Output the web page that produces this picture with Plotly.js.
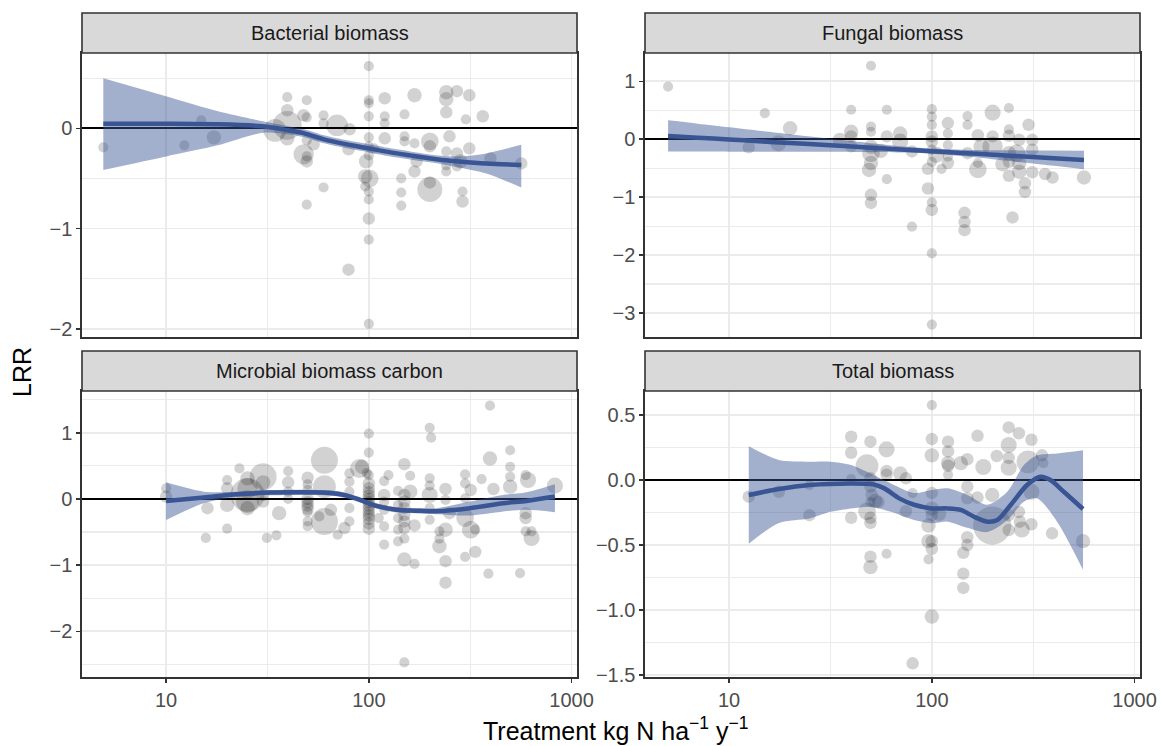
<!DOCTYPE html>
<html>
<head>
<meta charset="utf-8">
<script src="https://cdn.plot.ly/plotly-3.0.1.min.js"></script>
<style>html,body{margin:0;padding:0;background:#fff;}#chart{width:1161px;height:746px;}</style>
</head>
<body>
<div id="chart"></div>
<script>
// ---------------- DATA ----------------
const panelTitles = ["Bacterial biomass", "Fungal biomass", "Microbial biomass carbon", "Total biomass"];
const xTitle = "Treatment kg N ha<sup>\u22121</sup> y<sup>\u22121</sup>";
const yTitle = "LRR";
const xTickVals = [10, 100, 1000];
const xTickText = ["10", "100", "1000"];
const xMinorVals = [3.1623, 31.623, 316.23];

const bactTickVals = [0, -1, -2];
const bactTickText = ["0", "\u22121", "\u22122"];
const fungTickVals = [1, 0, -1, -2, -3];
const fungTickText = ["1", "0", "\u22121", "\u22122", "\u22123"];
const micTickVals = [1, 0, -1, -2];
const micTickText = ["1", "0", "\u22121", "\u22122"];
const totTickVals = [0.5, 0, -0.5, -1, -1.5];
const totTickText = ["0.5", "0.0", "\u22120.5", "\u22121.0", "\u22121.5"];

// Bacterial biomass points
const bactX = [4.9,12.3,14.9,17.2,39.6,39.6,39.6,34.4,39.6,49.4,49.4,47.6,59.8,59.8,69.7,80.5,49.4,53.4,47.7,49.4,49.4,59.8,49.4,79.4,
  100,100,100,100,100,100,100,97,96,101,96,100,100,100,100,79.4,100,119.8,119.8,119.8,119.8,106,150,150,150,168,168,168,172,144.5,144.5,144.5,
  200,200,200,200,241,241,241,250,241,241,241,272,272,272,282.6,290,290,313,313,301,365,398,565];
const bactY = [-0.19,-0.17,0.08,-0.09,0.31,0.18,0.03,-0.02,-0.10,0.28,0.11,0.13,0.13,0.05,0.03,-0.01,-0.12,-0.16,-0.26,-0.28,-0.33,-0.59,-0.76,-0.21,
  0.62,0.28,0.25,0.12,-0.09,-0.18,-0.27,-0.33,-0.48,-0.50,-0.58,-0.63,-0.71,-0.90,-1.11,-1.41,-1.95,0.30,0.12,0.05,-0.10,-0.20,0.14,-0.08,-0.13,0.33,-0.15,-0.43,-0.33,-0.50,-0.64,-0.77,
  -0.13,-0.18,-0.54,-0.61,0.36,0.29,0.16,-0.08,-0.23,-0.37,-0.43,0.37,-0.25,-0.38,-0.33,-0.63,-0.73,0.33,-0.20,0.09,0.12,-0.30,-0.35];
const bactW = [1,1,1,2,1,1.5,8,5,2,1,1,1.5,1,1,4.5,1.5,1,1.5,4,1,1.5,1,1,1.5,
  1,1,1,1,1,1,1,2,2,3,1,1,1,1.5,1,1.5,1,1.5,1,1,1.5,1,1,1,1,2,1,1.5,1.5,1,1,1,
  3,1.5,1.5,6,2,2,1.5,1.5,1,1,1,1.5,1.5,1,2,1,1.5,1.5,1.5,1,1.5,1.5,1.5];

// Fungal biomass points
const fungX = [5,15,12.5,17.5,20,35.2,40,40,40,40,50.1,50.1,50.1,50.1,50.1,50.1,49,50.1,50.1,56,60,60,60,69.8,69.8,79.8,79.8,
  100,100,100,100,100,100,105,100,95.7,95.7,100,100,100,100,111.7,120,120,120,120,120,150,150,150,145,145,145,
  168.7,168.7,168.7,175.8,199.5,199.5,199.5,223,240,240,240,240,240,240,250,270,270,270,288,288,300,262,313,313,313,362,394,563];
const fungY = [0.91,0.45,-0.14,-0.07,0.19,-0.01,0.51,0.13,0.05,-0.12,1.27,0.22,0.13,-0.13,-0.24,-0.41,-0.53,-0.96,-1.10,-0.20,0.51,0.05,-0.69,0.10,-0.04,-0.21,-1.51,
  0.52,0.39,0.25,0.05,-0.04,-0.18,-0.27,-0.39,-0.51,-0.85,-1.09,-1.22,-1.97,-3.2,-0.51,0.28,0.10,-0.10,-0.30,-0.41,0.40,0.25,-0.24,-1.27,-1.43,-1.57,
  0.07,-0.41,-0.52,-0.13,0.46,0.05,-0.13,-0.43,0.54,0.17,0.06,-0.24,-0.39,-0.63,-1.35,-0.01,-0.41,-0.56,-0.76,-0.91,0.25,-0.24,-0.01,-0.18,-0.57,-0.60,-0.66,-0.66];
const fungW = [1,1,1.5,2.5,2,2,1,2,1.5,1.5,1,1,1,2,3,2,2,1.5,1.5,2,1,1.5,1,2,2.5,1.5,1,
  1,1,1,1.5,1.5,1,2.5,1,1.5,1.5,1,1.5,1,1,1,1.5,1,1,1,1.5,1,1,1.5,1.5,1.5,1.5,
  1.5,1,3,2.5,2.5,1.5,4,2,1,1,1.5,2,1.5,1.5,1.5,1.5,2,2,1.5,1.5,1.5,3,1.5,1.5,1.5,1.5,1.5,2];

// Microbial biomass carbon points
const micX = [10,10,16,15.7,20,20,20,20,23,25.2,25.2,25.2,25.2,25.2,30.1,30.1,30.1,30.1,31.4,35,36.1,40,40,40,40,
  49.9,49.9,49.9,49.9,49.9,49.9,49.9,49.9,49.9,49.9,57,60.4,60.4,60.4,65,70.2,75.8,80.2,80.2,80.2,80.2,80.2,90,97.7,
  100,100,92.7,100,100,100,100,100,100,100,100,100,100,100,100,100,100,
  112,119,119,119,119,119,125,119,139.4,139.4,139.4,139.4,139.4,149.7,149.7,149.7,149.7,149.7,149.7,149.7,149.7,149.7,149.7,
  160,160,168,168,199.6,203,199.6,199.6,199.6,199.6,199.6,223,223,223,239,239,239,239,239,250,
  298.5,298.5,298.5,298.5,298.5,318,318,335,335,360,389,396,396,412,498,498,498,498,557,594,610,594,594,594,635,635,828];
const micY = [0.16,0.035,-0.14,-0.59,0.285,0.16,-0.09,-0.45,0.46,0.31,0.16,0.06,-0.04,-0.14,0.335,0.25,0.06,-0.04,-0.59,-0.55,-0.215,0.42,0.25,0.11,0.0,
  0.32,0.22,0.135,0.0,-0.05,-0.1,-0.15,-0.2,-0.34,-0.41,-0.265,0.585,0.185,-0.34,-0.165,-0.54,-0.44,-0.34,-0.14,0.11,0.26,0.385,0.46,0.39,
  0.985,0.70,0.485,0.36,0.235,0.16,0.1,0.05,0.0,-0.05,-0.1,-0.15,-0.2,-0.25,-0.3,-0.37,-0.45,
  -0.29,0.27,0.06,-0.04,-0.165,-0.69,0.36,-0.415,0.12,-0.09,-0.29,-0.465,-0.64,0.525,0.06,-0.04,-0.14,-0.24,-0.34,-0.44,-0.6,-0.915,-2.47,
  0.35,0.11,-0.40,-0.98,1.075,0.925,0.31,0.2,0.06,-0.14,-0.315,-0.49,-0.715,-0.6,0.15,-0.015,-0.465,-0.94,-1.265,-0.215,
  0.37,0.235,0.01,-0.29,-0.875,0.135,-0.465,-0.465,-0.8,0.3,-1.13,1.41,0.61,0.15,0.735,0.485,0.335,0.185,-1.12,0.36,0.285,-0.215,-0.29,-0.49,-0.59,-0.49,0.2];
const micW = [1,1.5,1.5,1,1,1.5,2,1,1,2,4,11,5,2,7,2,1.5,1.5,1,1,2,1,1.5,1,1,
  1.5,1,1,1.5,1.5,1.5,1.5,1,1,1,1,7,5,7,1.5,1,1.5,1,1,1,1,1,3.5,1,
  1,1,2,1,1.5,1.5,1.5,1.5,1.5,1.5,1.5,1.5,1.5,1.5,1.5,1.5,1.5,
  1,1,1.5,1,1,1,1,1,1,1,1,1,1,1.5,1.5,1.5,1.5,1.5,1.5,1.5,1,2,1,
  1,2,1.5,1,1,1,1,1,2.5,1,1,1,2,1,1.5,1,2,1.5,1.5,1.5,
  1,1,1,3,1,1.5,3,1,1.5,1,1,1,2,1.5,1,1,1,2,1,1,2.5,1.5,1.5,1,2.5,1,2.5];

// Total biomass points
const totX = [12.5,17.6,24.9,24.9,40,40,40,40,49.8,47.9,49.8,49.8,50.5,49.8,47.9,49.8,49.8,49.8,49.8,52.6,54.5,59.8,59.8,59.8,59.8,69.9,74.5,74.5,80.4,80.4,
  100,100,100,100,100,100,96.3,96.3,100,100,96.3,100,108.6,120.3,120.3,120.3,120.3,120.3,139,149.6,149.6,149.6,149.6,149.6,143,143,143,
  168,168,179.5,198.6,198.6,209,239.5,239.5,239.5,239.5,239.5,239.5,269,269,272,278,298,310,310,310,350,355,392,557];
const totY = [-0.128,-0.09,-0.27,-0.04,0.333,0.21,0.008,-0.29,0.295,0.11,0.013,-0.05,-0.115,-0.17,-0.24,-0.29,-0.33,-0.59,-0.67,-0.16,-0.17,0.236,0.07,0.04,-0.567,0.05,0.013,-0.24,-0.1,-1.41,
  0.577,0.315,0.19,-0.1,-0.22,-0.27,-0.35,-0.47,-0.47,-0.53,-0.61,-1.05,-0.26,0.295,0.22,0.13,0.11,0.04,0.13,0.16,-0.05,-0.14,-0.44,-0.5,-0.56,-0.72,-0.83,
  0.34,-0.135,0.1,-0.115,-0.35,0.185,0.405,0.27,0.17,0.095,-0.27,-0.385,0.36,-0.245,-0.32,-0.38,0.14,0.31,-0.09,-0.34,0.19,0.13,-0.41,-0.47];
const totW = [1.5,1.5,1.5,1,1.5,1.5,1,1.5,1.5,5,1.5,1.5,1.5,1,3,1.5,1.5,1.5,2,2,1.5,2.5,1.5,1.5,1,2,1.5,1.5,1,1.5,
  1,1.5,2,1.5,2,1.5,2,2,1.5,1.5,1,2,2,1.5,1.5,2,1.5,1,2,1.5,1.5,1.5,1.5,1.5,1.5,1.5,1.5,
  1.5,1.5,2.5,2,14,1.5,1.5,2.5,1.5,2.5,1.5,1.5,1.5,1.5,1.5,2.5,5,1.5,2.5,1.5,1.5,1,1.5,2];

// Smoothed fits
const bactFitX = [4.9,10,18,30,40,48,60,78,100,128,160,220,280,380,565];
const bactFitY = [0.045,0.045,0.04,0.02,-0.02,-0.05,-0.11,-0.16,-0.2,-0.24,-0.27,-0.31,-0.33,-0.35,-0.365];
const bactFitLo = [-0.415,-0.28,-0.17,-0.045,-0.06,-0.09,-0.15,-0.2,-0.24,-0.28,-0.31,-0.35,-0.39,-0.45,-0.59];
const bactFitHi = [0.50,0.32,0.17,0.07,0.02,-0.01,-0.07,-0.12,-0.16,-0.2,-0.23,-0.27,-0.28,-0.25,-0.165];

const fungFitX = [5,7,10,14,20,30,50,70,100,140,200,300,400,563];
const fungFitY = [0.057,0.028,-0.004,-0.033,-0.065,-0.100,-0.145,-0.175,-0.206,-0.235,-0.267,-0.302,-0.327,-0.357];
const fungFitLo = [-0.213,-0.213,-0.214,-0.214,-0.215,-0.216,-0.221,-0.230,-0.251,-0.289,-0.343,-0.410,-0.458,-0.517];
const fungFitHi = [0.327,0.269,0.206,0.148,0.085,0.016,-0.069,-0.120,-0.161,-0.181,-0.191,-0.194,-0.196,-0.197];

const micFitX = [10,15.3,22.3,32.6,47.5,64.4,77.8,90.4,109,137,179,216,315,460,600,828];
const micFitY = [-0.03,0.02,0.07,0.095,0.1,0.09,0.05,-0.015,-0.105,-0.165,-0.18,-0.185,-0.14,-0.065,-0.03,0.035];
const micFitLo = [-0.32,-0.065,0.03,0.055,0.06,0.05,0.01,-0.055,-0.145,-0.205,-0.22,-0.23,-0.25,-0.19,-0.165,-0.2];
const micFitHi = [0.25,0.11,0.11,0.135,0.14,0.13,0.09,0.025,-0.065,-0.125,-0.14,-0.14,-0.04,0.06,0.1,0.22];

const totFitX = [12.5,17.6,24.9,40,51.4,58.3,69,81.7,100,119.4,139,161.4,187.9,210.4,244.9,295,343.6,384.6,447.7,557];
const totFitY = [-0.115,-0.069,-0.038,-0.026,-0.033,-0.064,-0.141,-0.19,-0.218,-0.218,-0.23,-0.282,-0.32,-0.308,-0.192,-0.038,0.026,0.0,-0.09,-0.223];
const totBandX = [12.5,17.6,24.9,31.6,40,49.8,62.8,81.8,100,119.4,149.7,187.9,235.5,284.6,331,415,557];
const totBandLo = [-0.49,-0.33,-0.295,-0.244,-0.218,-0.205,-0.244,-0.308,-0.333,-0.32,-0.367,-0.4,-0.31,-0.167,-0.141,-0.32,-0.69];
const totBandHi = [0.26,0.154,0.141,0.141,0.115,0.05,-0.026,-0.1,-0.077,-0.064,-0.115,-0.19,-0.09,0.115,0.19,0.205,0.23];

// ---------------- STYLE / LAYOUT ----------------
const W = 1161, H = 746;
const FONT = "Liberation Sans, Arial, Helvetica, sans-serif";
const lineColor = "#3A5594";
const ribbonColor = "rgba(58,85,148,0.47)";
const pointColor = "rgba(0,0,0,0.25)";

const colPx = [[82, 577], [645, 1140]];
const rowPx = [[53, 337], [391, 677]];
const stripPx = [[13, 53], [351, 391]];
const fx = p => p / W;
const fy = p => 1 - p / H;

const panels = [
  {x: bactX, y: bactY, w: bactW, fx: bactFitX, fy: bactFitY, bx: bactFitX, lo: bactFitLo, hi: bactFitHi,
   range: [-2.081, 0.751], tv: bactTickVals, tt: bactTickText, minor: 0.5, col: 0, row: 0},
  {x: fungX, y: fungY, w: fungW, fx: fungFitX, fy: fungFitY, bx: fungFitX, lo: fungFitLo, hi: fungFitHi,
   range: [-3.415, 1.49], tv: fungTickVals, tt: fungTickText, minor: 0.5, col: 1, row: 0},
  {x: micX, y: micY, w: micW, fx: micFitX, fy: micFitY, bx: micFitX, lo: micFitLo, hi: micFitHi,
   range: [-2.69, 1.63], tv: micTickVals, tt: micTickText, minor: 0.5, col: 0, row: 1},
  {x: totX, y: totY, w: totW, fx: totFitX, fy: totFitY, bx: totBandX, lo: totBandLo, hi: totBandHi,
   range: [-1.515, 0.685], tv: totTickVals, tt: totTickText, minor: 0.25, col: 1, row: 1}
];

const traces = [];
const layout = {
  width: W, height: H,
  margin: {l: 0, r: 0, t: 0, b: 0, pad: 0},
  paper_bgcolor: "#ffffff",
  plot_bgcolor: "#ffffff",
  showlegend: false,
  font: {family: FONT, size: 20, color: "#4D4D4D"},
  shapes: [],
  annotations: []
};

panels.forEach((p, i) => {
  const n = i + 1;
  const xa = n === 1 ? "x" : "x" + n;
  const ya = n === 1 ? "y" : "y" + n;
  const xKey = n === 1 ? "xaxis" : "xaxis" + n;
  const yKey = n === 1 ? "yaxis" : "yaxis" + n;
  const c = colPx[p.col], r = rowPx[p.row], s = stripPx[p.row];

  traces.push({
    type: "scatter", mode: "markers", x: p.x, y: p.y, xaxis: xa, yaxis: ya,
    marker: {size: p.w, sizemode: "area", sizeref: 1 / 52, color: pointColor, line: {width: 0}},
    hoverinfo: "skip"
  });
  traces.push({
    type: "scatter", mode: "lines", x: p.bx, y: p.lo, xaxis: xa, yaxis: ya,
    line: {width: 0, shape: "spline", smoothing: 0.8}, hoverinfo: "skip"
  });
  traces.push({
    type: "scatter", mode: "lines", x: p.bx, y: p.hi, xaxis: xa, yaxis: ya,
    line: {width: 0, shape: "spline", smoothing: 0.8}, fill: "tonexty", fillcolor: ribbonColor, hoverinfo: "skip"
  });
  traces.push({
    type: "scatter", mode: "lines", x: p.fx, y: p.fy, xaxis: xa, yaxis: ya,
    line: {width: 4.5, color: lineColor, shape: "spline", smoothing: 0.8}, hoverinfo: "skip"
  });

  const isBottom = p.row === 1;
  layout[xKey] = {
    type: "log", range: [0.585, 3.027], domain: [fx(c[0]), fx(c[1])], anchor: ya,
    tickmode: "array", tickvals: xTickVals, ticktext: xTickText,
    showticklabels: isBottom, ticks: isBottom ? "outside" : "", ticklen: 4, tickwidth: 1.6, tickcolor: "#333333",
    tickfont: {family: FONT, size: 20, color: "#4D4D4D"},
    showgrid: true, gridcolor: "#EBEBEB", gridwidth: 1.8,
    minor: {tickmode: "array", tickvals: xMinorVals, showgrid: true, gridcolor: "#EBEBEB", gridwidth: 1.2, ticks: ""},
    showline: true, mirror: true, linecolor: "#333333", linewidth: 1.6,
    zeroline: false, fixedrange: true
  };
  layout[yKey] = {
    type: "linear", range: p.range, domain: [fy(r[1]), fy(r[0])], anchor: xa,
    tickmode: "array", tickvals: p.tv, ticktext: p.tt,
    ticks: "outside", ticklen: 4, tickwidth: 1.6, tickcolor: "#333333",
    tickfont: {family: FONT, size: 20, color: "#4D4D4D"},
    showgrid: true, gridcolor: "#EBEBEB", gridwidth: 1.8,
    minor: {dtick: p.minor, tick0: 0, showgrid: true, gridcolor: "#EBEBEB", gridwidth: 1.2, ticks: ""},
    showline: true, mirror: true, linecolor: "#333333", linewidth: 1.6,
    zeroline: true, zerolinecolor: "#000000", zerolinewidth: 2.2, fixedrange: true
  };

  layout.shapes.push({
    type: "rect", xref: "paper", yref: "paper",
    x0: fx(c[0]), x1: fx(c[1]), y0: fy(s[1]), y1: fy(s[0]),
    fillcolor: "#D9D9D9", line: {color: "#333333", width: 1.6}, layer: "above"
  });
  layout.annotations.push({
    text: panelTitles[i], xref: "paper", yref: "paper",
    x: fx((c[0] + c[1]) / 2), y: fy((s[0] + s[1]) / 2), xanchor: "center", yanchor: "middle",
    showarrow: false, font: {family: FONT, size: 20, color: "#1A1A1A"}
  });
});

layout.annotations.push({
  text: xTitle, xref: "paper", yref: "paper", x: fx(615), y: fy(729),
  xanchor: "center", yanchor: "middle", showarrow: false,
  font: {family: FONT, size: 25, color: "#000000"}
});
layout.annotations.push({
  text: yTitle, xref: "paper", yref: "paper", x: fx(22), y: fy(372),
  xanchor: "center", yanchor: "middle", textangle: -90, showarrow: false,
  font: {family: FONT, size: 25, color: "#000000"}
});

Plotly.newPlot("chart", traces, layout, {displayModeBar: false, staticPlot: true});
</script>
</body>
</html>
